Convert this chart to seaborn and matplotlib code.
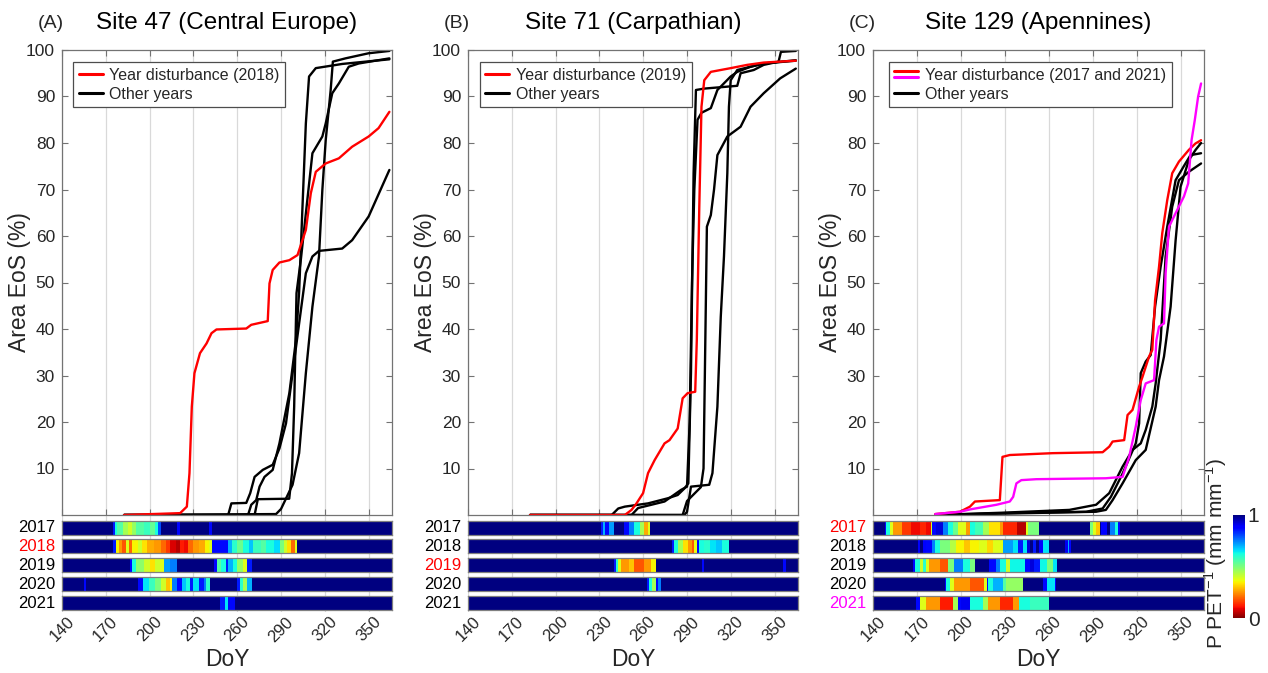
import numpy as np
import pandas as pd
import matplotlib
matplotlib.use("Agg")
import matplotlib.pyplot as plt
import seaborn as sns
from matplotlib.lines import Line2D
from matplotlib.legend_handler import HandlerBase

# ---------------- data ----------------
YEARS = [2017, 2018, 2019, 2020, 2021]
XTICKS = [140, 170, 200, 230, 260, 290, 320, 350]
YTICKS = [10, 20, 30, 40, 50, 60, 70, 80, 90, 100]
TITLES = ["Site 47 (Central Europe)", "Site 71 (Carpathian)", "Site 129 (Apennines)"]
TAGS = ["(A)", "(B)", "(C)"]
LEGEND_LABELS = ["Year disturbance (2018)", "Year disturbance (2019)", "Year disturbance (2017 and 2021)"]

# Panel A (Site 47) cumulative area EoS curves
A_2018_doy = [182.5, 220.9, 225.5, 227.3, 228.9, 230.7, 234.5, 239.0, 242.4, 245.8, 266.2, 269.6, 280.9, 282.1, 284.3, 288.9, 295.7, 301.3, 307.0, 310.4, 313.8, 320.6, 329.6, 338.7, 350.0, 356.8, 364.2]
A_2018_area = [0, 0.4, 1.8, 9.0, 23.3, 30.5, 34.8, 36.9, 39.1, 39.9, 40.1, 40.9, 41.7, 49.8, 52.7, 54.3, 54.8, 55.9, 61.3, 69.2, 73.8, 75.6, 76.7, 79.2, 81.4, 83.2, 86.7]
A_2017_doy = [182.5, 253.8, 256.0, 266.2, 268.9, 271.9, 277.5, 284.3, 288.9, 293.4, 297.9, 302.4, 307.0, 311.5, 316.0, 331.9, 338.7, 350.0, 364.2]
A_2017_area = [0, 0, 2.5, 2.6, 4.7, 8.2, 9.7, 10.8, 14.3, 19.7, 30.5, 41.2, 52.0, 55.6, 56.8, 57.3, 59.1, 64.2, 74.2]
A_2019_doy = [182.5, 267.4, 269.6, 273.0, 275.3, 278.7, 284.3, 288.9, 295.7, 300.2, 302.4, 304.7, 307.0, 309.2, 313.8, 331.9, 364.2]
A_2019_area = [0, 0, 2.2, 3.2, 6.1, 8.2, 9.7, 15.4, 26.2, 37.6, 48.0, 66.3, 84.2, 94.3, 96.1, 97.0, 98.0]
A_2020_doy = [182.5, 271.9, 274.1, 295.6, 297.5, 299.0, 300.6, 303.6, 308.1, 311.5, 318.3, 320.6, 325.1, 329.6, 336.4, 343.2, 364.2]
A_2020_area = [0, 0, 3.4, 3.5, 9.0, 23.3, 47.7, 55.0, 68.0, 77.8, 81.4, 84.2, 90.7, 92.8, 96.4, 97.1, 98.2]
A_2021_doy = [182.5, 286.6, 290.0, 297.9, 302.4, 307.0, 311.5, 316.0, 318.3, 320.6, 324.0, 325.5, 334.1, 350.0, 364.2]
A_2021_area = [0, 0.2, 1.3, 6.5, 13.3, 30.5, 44.8, 55.6, 69.9, 80.6, 91.4, 97.5, 98.2, 99.3, 99.8]

# Panel B (Site 71)
B_2019_doy = [182.5, 247.4, 252.0, 255.4, 259.9, 263.3, 267.8, 274.6, 278.0, 283.6, 287.0, 290.4, 295.6, 296.7, 298.4, 299.9, 301.8, 306.3, 313.1, 319.9, 331.2, 342.5, 364.5]
B_2019_area = [0, 0, 1.1, 2.5, 4.7, 9.0, 11.8, 15.4, 16.1, 18.6, 25.1, 26.2, 26.5, 37.6, 66.3, 87.8, 93.5, 95.3, 95.7, 96.1, 96.8, 97.3, 97.7]
B_2017_doy = [182.5, 238.4, 242.9, 247.4, 263.3, 276.9, 283.6, 288.2, 290.9, 292.7, 294.5, 296.1, 301.8, 324.4, 326.7, 335.7, 342.5, 352.7, 354.3, 364.5]
B_2017_area = [0, 0, 1.4, 1.8, 2.5, 3.6, 4.3, 5.7, 6.8, 30.5, 73.5, 91.4, 91.7, 92.3, 95.0, 95.7, 96.8, 97.5, 99.6, 99.8]
B_2018_doy = [182.5, 252.0, 256.5, 274.6, 285.9, 290.0, 291.8, 293.4, 295.0, 297.2, 299.9, 306.3, 310.8, 319.9, 324.4, 333.5, 342.5, 364.5]
B_2018_area = [0, 0, 1.5, 2.9, 5.4, 6.1, 20.0, 50.0, 70.0, 85.0, 86.5, 87.5, 91.4, 94.3, 95.3, 96.4, 97.1, 97.7]
B_2020_doy = [182.5, 287.0, 290.0, 299.5, 301.3, 302.2, 303.6, 306.3, 308.5, 310.8, 317.6, 326.7, 333.5, 342.5, 353.8, 364.5]
B_2020_area = [0, 0, 3.0, 6.0, 10.0, 30.0, 62.0, 64.5, 70.0, 77.4, 81.4, 83.5, 87.8, 90.7, 93.9, 96.0]
B_2021_doy = [182.5, 288.2, 290.0, 292.7, 305.2, 307.4, 310.8, 313.1, 315.3, 317.6, 318.7, 319.9, 324.4, 333.5, 342.5, 364.5]
B_2021_area = [0, 0, 0.7, 6.1, 6.5, 9.0, 23.3, 42.6, 55.6, 73.5, 87.8, 93.5, 95.7, 96.4, 97.1, 97.8]

# Panel C (Site 129)
C_2017_doy = [182.5, 199.4, 206.2, 209.6, 226.6, 228.4, 233.4, 262.8, 296.8, 301.3, 303.6, 311.5, 313.8, 317.2, 321.7, 324.0, 328.5, 330.7, 332.6, 335.3, 337.5, 340.9, 344.3, 348.9, 355.6, 360.2, 364.0]
C_2017_area = [0.2, 0.7, 1.8, 2.9, 3.2, 12.5, 12.9, 13.3, 13.5, 14.7, 15.8, 16.1, 21.5, 22.6, 27.6, 29.7, 34.1, 35.5, 46.2, 53.4, 60.6, 67.7, 73.5, 76.0, 78.5, 79.9, 80.6]
C_2021_doy = [182.5, 199.4, 206.2, 224.3, 233.4, 235.7, 237.9, 241.3, 251.5, 274.1, 299.0, 310.4, 314.9, 319.4, 322.8, 326.2, 331.9, 333.5, 335.3, 338.7, 339.8, 342.1, 346.6, 352.3, 355.2, 357.5, 359.7, 362.0, 364.0]
C_2021_area = [0.2, 0.7, 1.2, 2.2, 2.9, 3.9, 6.8, 7.5, 7.7, 7.8, 7.9, 8.2, 12.5, 19.0, 24.7, 28.3, 29.0, 37.6, 40.5, 41.2, 52.0, 62.0, 64.9, 68.5, 71.3, 80.6, 84.9, 90.0, 92.8]
C_2018_doy = [182.5, 228.9, 274.1, 292.3, 301.3, 310.4, 317.2, 322.8, 326.2, 330.7, 333.0, 336.4, 339.8, 344.3, 348.9, 355.6, 364.0]
C_2018_area = [0, 0.5, 1.1, 2.2, 4.7, 10.4, 14.0, 15.4, 18.3, 23.3, 28.3, 37.6, 55.6, 66.3, 72.0, 73.8, 75.6]
C_2019_doy = [182.5, 228.9, 285.5, 296.8, 302.4, 310.4, 319.4, 321.7, 322.8, 326.2, 329.6, 332.6, 336.4, 340.9, 346.6, 352.2, 356.8, 364.0]
C_2019_area = [0, 0.4, 0.7, 1.4, 3.9, 8.9, 15.4, 19.7, 30.5, 33.0, 34.4, 44.8, 53.4, 62.0, 72.0, 75.0, 77.4, 77.8]
C_2020_doy = [182.5, 228.9, 292.3, 299.0, 303.6, 310.4, 319.4, 326.2, 333.0, 335.3, 338.7, 343.2, 346.6, 350.0, 355.6, 360.2, 364.0]
C_2020_area = [0, 0.3, 0.7, 1.1, 3.2, 6.8, 11.8, 14.0, 23.3, 29.0, 34.1, 44.8, 59.0, 70.6, 76.3, 78.5, 80.0]

# P/PET strips: runs of (start DoY, end DoY, P PET^-1); elsewhere the value is 1
A_P_2017 = [(175, 176.5, 0.85), (176.5, 178, 0.62), (178, 182, 0.55), (182, 185, 0.45), (185, 188, 0.4), (188, 191, 0.47), (191, 196, 0.55), (196, 200, 0.58), (200, 204, 0.53), (204, 206, 0.62), (206, 207.5, 0.8), (219, 220.5, 0.87), (241, 243, 0.87)]
A_P_2018 = [(175, 177, 0.85), (177, 179, 0.35), (179, 181, 0.25), (181, 183.5, 0.18), (183.5, 186, 0.38), (186, 188, 0.2), (188, 192, 0.35), (192, 195, 0.4), (195, 198.5, 0.33), (198.5, 203, 0.27), (203, 207.5, 0.25), (207.5, 211, 0.2), (211, 214, 0.15), (214, 218, 0.08), (218, 221, 0.05), (221, 223.5, 0.12), (223.5, 226, 0.1), (226, 230, 0.2), (230, 234, 0.25), (234, 238, 0.27), (238, 241, 0.35), (241, 243, 0.38), (243, 254, 0.87), (254, 256.5, 0.7), (256.5, 260, 0.6), (260, 264, 0.52), (264, 268, 0.62), (268, 271, 0.68), (271, 276, 0.58), (276, 280, 0.55), (280, 285, 0.62), (285, 289, 0.66), (289, 292, 0.5), (292, 294, 0.4), (294, 297, 0.33), (297, 299.5, 0.2), (299.5, 301, 0.38)]
A_P_2019 = [(186.5, 188, 0.87), (188, 191, 0.62), (191, 196, 0.48), (196, 200.5, 0.4), (200.5, 204, 0.33), (204, 207, 0.4), (207, 210, 0.38), (210, 214, 0.72), (214, 219, 0.75), (244, 246, 0.87), (246, 249, 0.55), (249, 252, 0.62), (252, 254, 0.85), (254, 257, 0.7), (257, 260, 0.62), (260, 264, 0.47), (264, 266.5, 0.38), (266.5, 270, 0.85)]
A_P_2020 = [(155, 156.5, 0.87), (192, 195.5, 0.87), (195.5, 199.5, 0.65), (199.5, 204, 0.58), (204, 207.5, 0.5), (207.5, 211, 0.4), (211, 214, 0.3), (214, 215.5, 0.35), (215.5, 219, 0.75), (219, 222, 0.87), (222, 225, 0.68), (225, 228, 0.62), (228, 230, 0.85), (230, 233.5, 0.65), (233.5, 237, 0.85), (237, 238.5, 0.75), (238.5, 241.5, 0.6), (259.8, 262, 0.85), (262, 264, 0.6), (264, 266.5, 0.45), (266.5, 270, 0.7)]
A_P_2021 = [(248.5, 251.5, 0.85), (251.5, 254, 0.65), (254, 258.5, 0.87)]

B_P_2017 = [(231, 232.5, 0.85), (232.5, 234, 0.7), (234, 236.5, 0.87), (236.5, 240, 0.72), (247, 250.5, 0.87), (250.5, 254, 0.75), (254, 257.3, 0.62), (257.3, 260.5, 0.45), (260.5, 263, 0.27), (263, 264.6, 0.38)]
B_P_2018 = [(279.6, 281, 0.85), (281, 283.5, 0.62), (283.5, 286.8, 0.45), (286.8, 290.3, 0.33), (290.3, 293.7, 0.25), (293.7, 295, 0.18), (295, 297, 0.37), (297, 298.2, 0.87), (298.2, 301.6, 0.62), (301.6, 306, 0.6), (306, 309.6, 0.65), (309.6, 314, 0.68), (314, 318.7, 0.62)]
B_P_2019 = [(239.8, 241.4, 0.85), (241.4, 242.5, 0.6), (242.5, 244.8, 0.38), (244.8, 250.5, 0.25), (250.5, 254, 0.3), (254, 260.7, 0.18), (260.7, 265, 0.25), (265, 268.7, 0.35), (300.5, 301.6, 0.87), (356.2, 357.3, 0.87)]
B_P_2020 = [(262.3, 264, 0.85), (264, 266, 0.62), (266, 268.7, 0.45), (268.7, 269.8, 0.87), (269.8, 272.7, 0.75)]
B_P_2021 = []

C_P_2017 = [(148, 149, 0.87), (149, 151.4, 0.62), (151.4, 153.6, 0.38), (153.6, 159.3, 0.25), (159.3, 166, 0.15), (166, 172, 0.1), (172, 176, 0.13), (176, 179.5, 0.1), (179.5, 180.5, 0.4), (180.5, 183, 0.87), (183, 187.7, 0.92), (187.7, 191, 0.75), (191, 194.5, 0.62), (194.5, 198, 0.52), (198, 203.6, 0.38), (203.6, 206, 0.25), (206, 209.3, 0.62), (209.3, 215, 0.57), (215, 219.5, 0.45), (219.5, 226.6, 0.33), (226.6, 229, 0.25), (229, 238, 0.13), (238, 244.3, 0.05), (244.3, 246, 0.38), (246, 253.4, 0.5), (288.4, 290.2, 0.5), (290.2, 292.5, 0.38), (292.5, 294.8, 0.3), (296, 299.3, 0.88), (301.6, 305, 0.75), (305, 307.3, 0.62), (307.3, 308.4, 0.87)]
C_P_2018 = [(170.7, 172, 0.88), (174, 176.4, 0.88), (176.4, 179.8, 0.87), (179.8, 182, 0.75), (182, 185.5, 0.62), (185.5, 192.3, 0.5), (192.3, 196.8, 0.43), (196.8, 202, 0.35), (202, 206, 0.3), (206, 212.7, 0.35), (212.7, 218, 0.38), (218, 222, 0.32), (222, 229, 0.38), (229, 235.7, 0.72), (235.7, 239, 0.65), (239, 242.5, 0.85), (242.5, 244.8, 0.65), (244.8, 247, 0.92), (249, 251, 0.85), (253, 256, 0.88), (256, 260.7, 0.65), (270.9, 273, 0.9), (273, 274, 0.7), (274, 275.5, 0.87)]
C_P_2019 = [(166.8, 168.4, 0.87), (168.4, 171.8, 0.62), (171.8, 174, 0.4), (174, 176.4, 0.6), (176.4, 178.6, 0.38), (178.6, 185.5, 0.25), (185.5, 191.1, 0.18), (191.1, 195.7, 0.5), (195.7, 201.4, 0.75), (201.4, 206, 0.62), (206, 209.3, 0.5), (219.5, 224, 0.87), (224, 226.6, 0.75), (226.6, 231, 0.62), (231, 233.4, 0.4), (233.4, 243.6, 0.63), (243.6, 247, 0.87), (247, 250, 0.92), (250, 253.9, 0.85), (253.9, 258.4, 0.63), (258.4, 263, 0.5), (263, 265.7, 0.65)]
C_P_2020 = [(188.9, 190, 0.87), (190, 192.3, 0.62), (192.3, 195.7, 0.38), (195.7, 206, 0.25), (206, 216.1, 0.18), (216.1, 217.3, 0.38), (217.3, 218.4, 0.87), (218.4, 221.8, 0.62), (221.8, 228.6, 0.7), (228.6, 231, 0.55), (231, 242.5, 0.47), (256.1, 258.4, 0.87), (258.4, 264.1, 0.65), (264.1, 265.2, 0.87)]
C_P_2021 = [(169.5, 171.8, 0.87), (171.8, 176.4, 0.38), (176.4, 185.5, 0.25), (185.5, 194.5, 0.12), (194.5, 198, 0.45), (198, 200.2, 0.87), (200.2, 206, 0.9), (206, 215, 0.62), (215, 218.4, 0.45), (218.4, 226.4, 0.25), (226.4, 235.7, 0.13), (235.7, 240.2, 0.25), (240.2, 247, 0.62), (247, 260.7, 0.58)]

# ---------------- styling ----------------
sns.set_theme(style="white")
plt.rcParams["font.family"] = ["Liberation Sans", "DejaVu Sans"]
plt.rcParams["mathtext.fontset"] = "custom"
plt.rcParams["mathtext.rm"] = "Liberation Sans"

RED, MAG, BLK = "#ff0000", "#ff00ff", "#000000"
W, H = 1268, 673
XMIN, XMAX = 140, 366
RES = 2
NCELL = (XMAX - XMIN) * RES

fig = plt.figure(figsize=(W / 100, H / 100), dpi=100)
fig.patch.set_facecolor("white")


def fax(l, t, r, b):
    return fig.add_axes([l / W, 1 - b / H, (r - l) / W, (b - t) / H])


def strip_values(runs):
    g = np.ones(NCELL)
    for s, e, v in runs:
        i0 = int(round((s - XMIN) * RES))
        i1 = int(round((e - XMIN) * RES))
        g[i0:i1] = v
    return g


class TwoLineHandler(HandlerBase):
    def create_artists(self, legend, orig_handle, xdescent, ydescent, width, height, fontsize, trans):
        arts = []
        ys = [-ydescent + 0.78 * height, -ydescent + 0.22 * height]
        for h, y in zip(orig_handle, ys):
            ln = Line2D([-xdescent, width - xdescent], [y, y], color=h.get_color(), lw=2.2)
            ln.set_transform(trans)
            arts.append(ln)
        return arts


panels = [
    dict(left=62, right=392,
         dist=[(A_2018_doy, A_2018_area, RED)],
         other=[(A_2017_doy, A_2017_area), (A_2019_doy, A_2019_area), (A_2020_doy, A_2020_area), (A_2021_doy, A_2021_area)],
         strips=[A_P_2017, A_P_2018, A_P_2019, A_P_2020, A_P_2021],
         ycolors=[BLK, RED, BLK, BLK, BLK], legx=0.034),
    dict(left=468, right=798,
         dist=[(B_2019_doy, B_2019_area, RED)],
         other=[(B_2017_doy, B_2017_area), (B_2018_doy, B_2018_area), (B_2020_doy, B_2020_area), (B_2021_doy, B_2021_area)],
         strips=[B_P_2017, B_P_2018, B_P_2019, B_P_2020, B_P_2021],
         ycolors=[BLK, BLK, RED, BLK, BLK], legx=0.036),
    dict(left=873, right=1204,
         dist=[(C_2017_doy, C_2017_area, RED), (C_2021_doy, C_2021_area, MAG)],
         other=[(C_2018_doy, C_2018_area), (C_2019_doy, C_2019_area), (C_2020_doy, C_2020_area)],
         strips=[C_P_2017, C_P_2018, C_P_2019, C_P_2020, C_P_2021],
         ycolors=[RED, BLK, BLK, BLK, MAG], legx=0.048),
]

cax = fax(1233, 515, 1245, 618)
SPINE = "0.45"
cbar = None

for pi, p in enumerate(panels):
    L, R = p["left"], p["right"]
    ax = fax(L, 50, R, 515)
    for xs, ys in p["other"]:
        sns.lineplot(x=xs, y=ys, ax=ax, color=BLK, linewidth=1.7, estimator=None, sort=False, legend=False)
    for xs, ys, c in p["dist"]:
        sns.lineplot(x=xs, y=ys, ax=ax, color=c, linewidth=1.7, estimator=None, sort=False, legend=False)
    ax.set_xlim(XMIN, XMAX)
    ax.set_ylim(0, 100)
    ax.set_xticks(XTICKS)
    ax.set_xticklabels([])
    ax.set_yticks(YTICKS)
    ax.set_yticklabels([str(v) for v in YTICKS], fontsize=12.5)
    ax.grid(axis="x", color="0.85", linewidth=0.9)
    ax.grid(axis="y", visible=False)
    ax.tick_params(direction="in", top=True, right=True, bottom=True, left=True,
                   length=4, width=0.8, color=SPINE, pad=5, labelcolor="#262626")
    for sp in ax.spines.values():
        sp.set_visible(True)
        sp.set_color(SPINE)
        sp.set_linewidth(0.9)
    ax.set_xlabel("")
    ax.set_ylabel("Area EoS (%)", fontsize=16.5, color="#262626")
    ax.yaxis.set_label_coords(-0.095, 0.5)
    ax.set_title(TITLES[pi], fontsize=17.5, pad=15, color="black")
    fig.text((L - 11) / W, 1 - 28 / H, TAGS[pi], fontsize=14, ha="center", va="baseline")

    # legend
    if len(p["dist"]) == 1:
        h1 = Line2D([], [], color=RED, lw=2.2)
        handler_map = None
    else:
        h1 = (Line2D([], [], color=RED), Line2D([], [], color=MAG))
        handler_map = {tuple: TwoLineHandler()}
    h2 = Line2D([], [], color=BLK, lw=2.2)
    leg = ax.legend([h1, h2], [LEGEND_LABELS[pi], "Other years"], loc="upper left",
                    bbox_to_anchor=(p["legx"], 0.974), borderaxespad=0, fontsize=11.5,
                    frameon=True, fancybox=False, edgecolor="0.3", framealpha=1,
                    handlelength=1.5, handletextpad=0.4, labelspacing=0.25, borderpad=0.35,
                    handler_map=handler_map)
    leg.get_frame().set_linewidth(0.9)

    # faint grid lines behind the strips (visible in the gaps)
    gax = fax(L, 516, R, 612)
    gax.set_xlim(XMIN, XMAX)
    gax.set_xticks(XTICKS)
    gax.set_yticks([])
    gax.set_xticklabels([])
    gax.grid(axis="x", color="0.85", linewidth=0.9)
    gax.tick_params(length=0)
    for sp in gax.spines.values():
        sp.set_visible(False)
    gax.set_zorder(-1)

    # P/PET strips
    for k, (yr, runs) in enumerate(zip(YEARS, p["strips"])):
        top = 520.5 + 18.9 * k
        sax = fax(L, top, R, top + 14)
        vals = pd.DataFrame(strip_values(runs)[None, :])
        first = (pi == 0 and k == 0)
        sns.heatmap(vals, ax=sax, cmap="jet_r", vmin=0, vmax=1,
                    cbar=first, cbar_ax=cax if first else None,
                    xticklabels=False, yticklabels=False)
        if first:
            cbar = sax.collections[0].colorbar
        sax.set_xlim(0, NCELL)
        for sp in sax.spines.values():
            sp.set_visible(True)
            sp.set_color("0.5")
            sp.set_linewidth(0.9)
        sax.set_ylabel("")
        sax.set_xlabel("")
        sax.text(-0.021, 0.5, str(yr), transform=sax.transAxes, ha="right", va="center",
                 fontsize=12, color=p["ycolors"][k])
        if k == 4:
            sax.set_xticks([(d - XMIN) * RES for d in XTICKS])
            sax.set_xticklabels([str(d) for d in XTICKS], rotation=45, ha="center",
                                fontsize=12, color="#262626")
            sax.tick_params(axis="x", length=0, pad=3)
        else:
            sax.set_xticks([])
    fig.text((L + R) / 2 / W, 1 - 660 / H, "DoY", fontsize=16.5, ha="center", va="center", color="#262626")

# colorbar
cbar.set_ticks([0, 1])
cbar.set_ticklabels(["0", "1"])
cbar.outline.set_visible(False)
cax.tick_params(length=0, labelsize=15, pad=2, labelcolor="#262626")
cax.set_ylabel(r"P PET$^{-1}$ (mm mm$^{-1}$)", fontsize=15, color="#262626")
cax.yaxis.set_label_position("left")
cax.yaxis.set_label_coords(-0.35, 0.63)

fig.savefig("out.png", dpi=100, facecolor="white")
